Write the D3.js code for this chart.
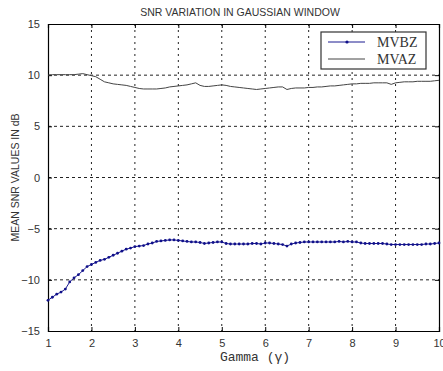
<!DOCTYPE html>
<meta charset="utf-8">
<head>
<script src="https://d3js.org/d3.v7.min.js"></script>
<style>
  body { margin: 0; background: #fff; }
</style>
</head>
<body>
<div id="chart"></div>
<script>
// gamma values, 1.0 .. 10.0 step 0.1
var gamma = d3.range(0, 91).map(function (i) { return 1 + i / 10; });

var mvbz = [-12.0, -11.7, -11.4, -11.2, -10.9, -10.2, -9.8, -9.5, -9.1, -8.7,
  -8.5, -8.3, -8.1, -8.0, -7.8, -7.6, -7.4, -7.2, -7.0, -6.9,
  -6.75, -6.7, -6.65, -6.5, -6.4, -6.25, -6.2, -6.15, -6.1, -6.1,
  -6.15, -6.2, -6.25, -6.3, -6.3, -6.35, -6.45, -6.4, -6.35, -6.3,
  -6.3, -6.45, -6.5, -6.5, -6.5, -6.5, -6.5, -6.45, -6.45, -6.5,
  -6.4, -6.4, -6.45, -6.5, -6.55, -6.7, -6.5, -6.4, -6.35, -6.3,
  -6.3, -6.3, -6.3, -6.3, -6.3, -6.3, -6.3, -6.25, -6.3, -6.25,
  -6.3, -6.3, -6.4, -6.45, -6.45, -6.45, -6.45, -6.45, -6.5, -6.55,
  -6.55, -6.55, -6.55, -6.55, -6.55, -6.55, -6.55, -6.5, -6.5, -6.45,
  -6.4];

var mvaz = [10.0, 10.05, 10.05, 10.05, 10.05, 10.05, 10.05, 10.1, 10.15, 10.05,
  9.95, 9.85, 9.6, 9.35, 9.25, 9.15, 9.1, 9.05, 9.0, 8.9,
  8.8, 8.7, 8.65, 8.65, 8.65, 8.65, 8.7, 8.75, 8.85, 8.9,
  8.95, 9.0, 9.05, 9.15, 9.25, 9.0, 8.9, 8.9, 8.95, 9.0,
  9.05, 9.0, 8.9, 8.85, 8.8, 8.75, 8.7, 8.65, 8.6, 8.65,
  8.7, 8.75, 8.8, 8.85, 8.85, 8.6, 8.7, 8.75, 8.75, 8.75,
  8.8, 8.8, 8.85, 8.85, 8.9, 8.95, 8.95, 9.0, 9.05, 9.1,
  9.15, 9.15, 9.2, 9.2, 9.2, 9.25, 9.25, 9.25, 9.25, 9.1,
  9.25, 9.3, 9.35, 9.35, 9.35, 9.4, 9.4, 9.4, 9.4, 9.45,
  9.5];

var xTicks = [1, 2, 3, 4, 5, 6, 7, 8, 9, 10];
var yTicks = [-15, -10, -5, 0, 5, 10, 15];
var seriesNames = ["MVBZ", "MVAZ"];

var sans = "Arial, 'Liberation Sans', sans-serif";

var margin = { top: 24, right: 4, bottom: 40, left: 48 },
    width = 443 - margin.left - margin.right,
    height = 371 - margin.top - margin.bottom;

var svg = d3.select("#chart").append("svg")
    .attr("width", 443)
    .attr("height", 371);

var g = svg.append("g")
    .attr("transform", "translate(" + margin.left + "," + margin.top + ")");

var x = d3.scaleLinear().domain([1, 10]).range([0, width]);
var y = d3.scaleLinear().domain([-15, 15]).range([height, 0]);

// grid
g.selectAll(".vgrid").data(xTicks.slice(1, -1)).enter().append("line")
    .attr("x1", function (d) { return x(d); })
    .attr("x2", function (d) { return x(d); })
    .attr("y1", 0).attr("y2", height)
    .attr("stroke", "#222").attr("stroke-width", 1)
    .attr("stroke-dasharray", "2,4");
g.selectAll(".hgrid").data(yTicks.slice(1, -1)).enter().append("line")
    .attr("x1", 0).attr("x2", width)
    .attr("y1", function (d) { return y(d); })
    .attr("y2", function (d) { return y(d); })
    .attr("stroke", "#222").attr("stroke-width", 1)
    .attr("stroke-dasharray", "3,3");

// axes
g.append("g")
    .attr("transform", "translate(0," + height + ")")
    .call(d3.axisBottom(x).tickValues(xTicks).tickSize(-4).tickPadding(8).tickFormat(d3.format("d")));
g.append("g")
    .call(d3.axisLeft(y).tickValues(yTicks).tickSize(-4).tickPadding(8).tickFormat(d3.format("d")));
g.append("g")
    .call(d3.axisTop(x).tickValues(xTicks).tickSize(-4).tickFormat(""));
g.append("g")
    .attr("transform", "translate(" + width + ",0)")
    .call(d3.axisRight(y).tickValues(yTicks).tickSize(-4).tickFormat(""));
g.selectAll(".domain").attr("stroke", "#000").attr("stroke-width", 1.2);
g.selectAll(".tick text").attr("font-size", 11).attr("fill", "#333")
    .style("font-family", sans);

// lines
var line = d3.line()
    .x(function (d, i) { return x(gamma[i]); })
    .y(function (d) { return y(d); });

g.append("path").datum(mvaz)
    .attr("fill", "none").attr("stroke", "#444").attr("stroke-width", 1)
    .attr("d", line);

g.append("path").datum(mvbz)
    .attr("fill", "none").attr("stroke", "#1a1a90").attr("stroke-width", 1)
    .attr("d", line);
g.selectAll(".dot").data(mvbz).enter().append("circle")
    .attr("cx", function (d, i) { return x(gamma[i]); })
    .attr("cy", function (d) { return y(d); })
    .attr("r", 1.4)
    .attr("fill", "#10108a");

// title and labels
svg.append("text")
    .attr("x", 240).attr("y", 16)
    .attr("text-anchor", "middle")
    .attr("font-size", 10.5).attr("fill", "#333")
    .style("font-family", sans)
    .text("SNR VARIATION IN GAUSSIAN WINDOW");

svg.append("text")
    .attr("transform", "translate(19," + (margin.top + y(0)) + ") rotate(-90)")
    .attr("text-anchor", "middle")
    .attr("font-size", 10.5).attr("fill", "#333")
    .style("font-family", sans)
    .text("MEAN SNR VALUES IN dB");

svg.append("text")
    .attr("x", 255).attr("y", 361)
    .attr("text-anchor", "middle")
    .attr("font-size", 13).attr("fill", "#333")
    .style("font-family", "'Liberation Mono', 'DejaVu Sans Mono', monospace")
    .text("Gamma (\u03b3)");

// legend
var legend = svg.append("g").attr("transform", "translate(321,32)");
legend.append("rect")
    .attr("width", 105).attr("height", 37)
    .attr("fill", "#fff").attr("stroke", "#333").attr("stroke-width", 1.2);
seriesNames.forEach(function (name, i) {
    var ly = 10 + i * 17;
    legend.append("line")
        .attr("x1", 7).attr("x2", 44).attr("y1", ly).attr("y2", ly)
        .attr("stroke", i === 0 ? "#1a1a90" : "#444").attr("stroke-width", 1);
    if (i === 0) {
        legend.append("circle").attr("cx", 26).attr("cy", ly).attr("r", 1.6).attr("fill", "#10108a");
    }
    legend.append("text")
        .attr("x", 56).attr("y", ly + 5)
        .attr("font-size", 14).attr("fill", "#333")
        .style("font-family", "'Liberation Serif', 'DejaVu Serif', serif")
        .text(name);
});
</script>
</body>
